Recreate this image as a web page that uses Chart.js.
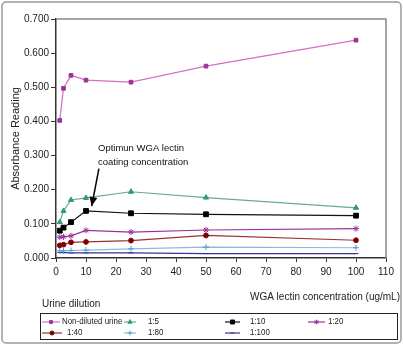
<!DOCTYPE html>
<html>
<head>
<meta charset="utf-8">
<script src="https://cdn.jsdelivr.net/npm/chart.js@4.4.1/dist/chart.umd.min.js"></script>
<style>
  html, body { margin: 0; padding: 0; background: #fff; }
  #wrap { width: 403px; height: 345px; position: relative; }
</style>
</head>
<body>
<div id="wrap"><canvas id="lineChart"></canvas></div>
<script>
// WGA lectin concentration (ug/mL)
var concentrations = [1.25, 2.5, 5, 10, 25, 50, 100];

// absorbance per urine dilution
var nonDiluted = [0.403, 0.497, 0.535, 0.521, 0.515, 0.562, 0.638];
var dil5   = [0.105, 0.138, 0.170, 0.176, 0.194, 0.177, 0.147];
var dil10  = [0.080, 0.089, 0.105, 0.138, 0.131, 0.128, 0.124];
var dil20  = [0.061, 0.062, 0.065, 0.081, 0.076, 0.082, 0.086];
var dil40  = [0.037, 0.039, 0.046, 0.047, 0.051, 0.066, 0.052];
var dil80  = [0.021, 0.021, 0.022, 0.023, 0.027, 0.032, 0.030];
var dil100 = [0.016, 0.016, 0.015, 0.015, 0.015, 0.013, 0.013];

var seriesNames = ['Non-diluted urine', '1:5', '1:10', '1:20', '1:40', '1:80', '1:100'];
var yTicks = ['0.000', '0.100', '0.200', '0.300', '0.400', '0.500', '0.600', '0.700'];
var xTitle = 'WGA lectin concentration (ug/mL)';
var yTitle = 'Absorbance Reading';
var legendTitle = 'Urine dilution';
var noteLines = ['Optimun WGA lectin', 'coating concentration'];

function pts(values) {
    var out = [];
    for (var i = 0; i < values.length; i++) {
        out.push({x: concentrations[i], y: values[i]});
    }
    return out;
}

var styles = [
    {line: '#d070c8', point: '#993399', shape: 'rect', r: 2.6},
    {line: '#66aa99', point: '#339977', shape: 'triangle', r: 3},
    {line: '#111111', point: '#000000', shape: 'rect', r: 3.4},
    {line: '#993399', point: '#993399', shape: 'star', r: 3},
    {line: '#993333', point: '#800000', shape: 'circle', r: 2.4},
    {line: '#88bbdd', point: '#5599cc', shape: 'cross', r: 3},
    {line: '#333399', point: '#333399', shape: 'line', r: 2.5}
];

var allValues = [nonDiluted, dil5, dil10, dil20, dil40, dil80, dil100];
var datasets = [];
for (var i = 0; i < allValues.length; i++) {
    var s = styles[i];
    datasets.push({
        label: seriesNames[i],
        data: pts(allValues[i]),
        borderColor: s.line,
        borderWidth: 1.2,
        backgroundColor: s.point,
        pointBackgroundColor: s.point,
        pointBorderColor: s.point,
        pointBorderWidth: 1,
        pointStyle: s.shape,
        pointRadius: s.r,
        showLine: true,
        tension: 0
    });
}

// legend cells: [line start x, line length, text x, row y]
var legendCells = [
    [42, 18, 62, 322], [124, 12, 148, 322], [225, 15, 250, 322], [308, 17, 328, 322],
    [42, 20, 67, 333], [124, 12, 148, 333], [225, 15, 250, 333]
];

var decor = {
    id: 'decor',
    beforeDraw: function(chart) {
        var ctx = chart.ctx;
        ctx.save();
        ctx.strokeStyle = '#9a9a9a';
        ctx.lineWidth = 1.5;
        ctx.beginPath();
        ctx.roundRect(2, 2, 399, 341, 4);
        ctx.stroke();
        ctx.restore();
    },
    afterDraw: function(chart) {
        var ctx = chart.ctx;
        var a = chart.chartArea;
        var xs = chart.scales.x, ys = chart.scales.y;
        ctx.save();
        // plot frame top and right
        ctx.strokeStyle = '#888888';
        ctx.lineWidth = 1.5;
        ctx.beginPath();
        ctx.moveTo(a.left, a.top);
        ctx.lineTo(a.right, a.top);
        ctx.lineTo(a.right, a.bottom);
        ctx.stroke();

        // annotation
        ctx.fillStyle = '#111';
        ctx.font = '9.5px "Liberation Sans", Arial, sans-serif';
        ctx.textBaseline = 'middle';
        ctx.textAlign = 'left';
        var tx = xs.getPixelForValue(14);
        ctx.fillText(noteLines[0], tx, ys.getPixelForValue(0.322));
        ctx.fillText(noteLines[1], tx, ys.getPixelForValue(0.281));
        var x0 = xs.getPixelForValue(14.3), y0 = ys.getPixelForValue(0.262);
        var x1 = xs.getPixelForValue(11.9), y1 = ys.getPixelForValue(0.152);
        ctx.strokeStyle = '#000';
        ctx.lineWidth = 1.5;
        ctx.beginPath();
        ctx.moveTo(x0, y0);
        ctx.lineTo(x1, y1);
        ctx.stroke();
        var ang = Math.atan2(y1 - y0, x1 - x0);
        ctx.beginPath();
        ctx.moveTo(x1, y1);
        ctx.lineTo(x1 - 9 * Math.cos(ang) + 4 * Math.sin(ang), y1 - 9 * Math.sin(ang) - 4 * Math.cos(ang));
        ctx.lineTo(x1 - 9 * Math.cos(ang) - 4 * Math.sin(ang), y1 - 9 * Math.sin(ang) + 4 * Math.cos(ang));
        ctx.closePath();
        ctx.fillStyle = '#000';
        ctx.fill();

        // x title and legend title
        ctx.fillStyle = '#222';
        ctx.font = '10px "Liberation Sans", Arial, sans-serif';
        ctx.textAlign = 'right';
        ctx.fillText(xTitle, 400, 297);
        ctx.textAlign = 'left';
        ctx.fillText(legendTitle, 42, 304);

        // legend box
        ctx.strokeStyle = '#222';
        ctx.lineWidth = 1;
        ctx.strokeRect(40.5, 313.5, 357, 26);
        ctx.font = '9px "Liberation Sans", Arial, sans-serif';
        for (var i = 0; i < legendCells.length; i++) {
            var c = legendCells[i], ds = chart.data.datasets[i];
            ctx.strokeStyle = ds.borderColor;
            ctx.lineWidth = 1.2;
            ctx.beginPath();
            ctx.moveTo(c[0], c[3]);
            ctx.lineTo(c[0] + c[1], c[3]);
            ctx.stroke();
            ctx.fillStyle = ds.pointBackgroundColor;
            ctx.strokeStyle = ds.pointBorderColor;
            ctx.lineWidth = 1;
            Chart.helpers.drawPoint(ctx, {
                pointStyle: ds.pointStyle,
                radius: Math.max(ds.pointRadius - 0.6, 2),
                borderWidth: 1
            }, c[0] + c[1] / 2, c[3]);
            // slightly condensed legend text, like the original
            ctx.save();
            ctx.translate(c[2], c[3]);
            ctx.scale(0.88, 1);
            ctx.fillStyle = '#222';
            ctx.fillText(ds.label, 0, 0);
            ctx.restore();
        }
        ctx.restore();
    }
};

var chart = new Chart(document.getElementById('lineChart'), {
    type: 'line',
    data: { datasets: datasets },
    options: {
        responsive: true,
        maintainAspectRatio: false,
        animation: false,
        layout: { padding: { left: 0, top: 19, right: 17, bottom: 37 } },
        plugins: {
            legend: { display: false },
            tooltip: { enabled: false }
        },
        scales: {
            x: {
                type: 'linear',
                min: 0,
                max: 110,
                afterFit: function(scale) { scale.height = 50; },
                ticks: {
                    stepSize: 10,
                    color: '#222',
                    padding: 4,
                    maxRotation: 0,
                    font: { family: '"Liberation Sans", Arial, sans-serif', size: 10 }
                },
                grid: { drawOnChartArea: false, tickLength: 4, color: '#333', tickColor: '#333' },
                border: { color: '#333', width: 1.5 }
            },
            y: {
                min: 0,
                max: 0.7,
                afterFit: function(scale) { scale.width = 56; },
                ticks: {
                    stepSize: 0.1,
                    color: '#222',
                    padding: 2,
                    font: { family: '"Liberation Sans", Arial, sans-serif', size: 10 },
                    callback: function(v) {
                        var k = Math.round(v * 10);
                        return yTicks[k] !== undefined ? yTicks[k] : '';
                    }
                },
                grid: { drawOnChartArea: false, tickLength: 5, color: '#333', tickColor: '#333' },
                border: { color: '#333', width: 1.5 },
                title: {
                    display: true,
                    text: yTitle,
                    color: '#222',
                    padding: { top: 9, bottom: 0 },
                    font: { family: '"Liberation Sans", Arial, sans-serif', size: 11 }
                }
            }
        }
    },
    plugins: [decor]
});
</script>
</body>
</html>
